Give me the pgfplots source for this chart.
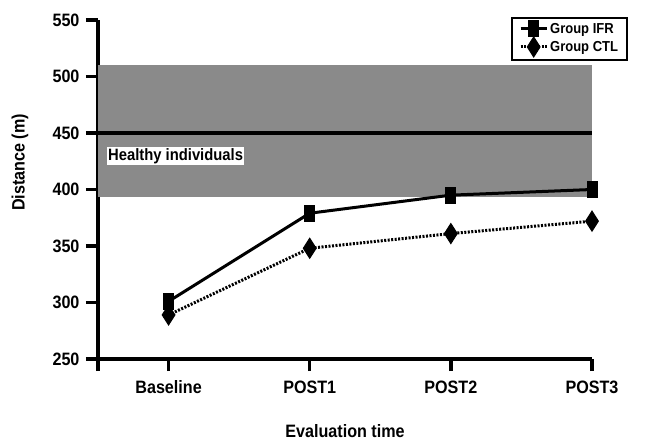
\documentclass[border=0pt]{standalone}
\usepackage{fontspec}
\setmainfont{Liberation Sans}[FakeStretch=0.9]
\usepackage{pgfplots}
\pgfplotsset{compat=1.18}
\definecolor{band}{RGB}{138,138,138}
\begin{document}
\begin{tikzpicture}
\begin{axis}[
 scale only axis, width=494bp, height=339bp,
 xmin=-0.5, xmax=3, ymin=250, ymax=550,
 axis x line*=bottom, axis y line*=left,
 axis line style={line width=3.5bp,-},
 xtick={-0.5,0,1,2,3}, xticklabels={,Baseline,POST1,POST2,POST3},
 ytick={250,300,...,550},
 tick align=outside, major tick length=12bp,
 tick style={line width=3.5bp, black},
 /pgf/number format/assume math mode=true,
 font=\fontsize{18}{21}\selectfont\bfseries,
 xticklabel style={yshift=-6bp},
 yticklabel style={xshift=-3bp},
 xlabel={Evaluation time},
 ylabel={Distance (m)},
 every axis x label/.style={at={(rel axis cs:0.5,-0.213)}, anchor=center},
 every axis y label/.style={at={(rel axis cs:-0.158,0.58)}, rotate=90, anchor=center},
 legend style={at={(rel axis cs:1.073,1.009)}, anchor=north east, draw=black, line width=2bp,
   font=\fontsize{14.5}{17}\selectfont\bfseries, row sep=0bp, inner xsep=7bp, inner ysep=3bp},
 legend cell align=left,
 legend image code/.code={\draw[mark repeat=2,mark phase=2] plot coordinates {(0bp,0bp)(13bp,0bp)(26bp,0bp)};},
 clip=false,
]
\addplot[draw=none, fill=band, forget plot] coordinates {(-0.5,393) (3,393) (3,510) (-0.5,510)} -- cycle;
\addplot[black, line width=4bp, forget plot] coordinates {(-0.5,450) (3,450)};
\node[anchor=west, fill=white, inner sep=1.5bp, font=\fontsize{16.5}{19}\selectfont\bfseries] at (axis cs:-0.44,429.5) {Healthy individuals};
\addplot[black, line width=3bp, mark=square*, mark size=5bp, mark options={solid, line width=1bp, yscale=1.6}]
 coordinates {(0,301) (1,379) (2,395) (3,400)};
\addlegendentry{Group IFR}
\addplot[black, line width=3bp, dash pattern=on 2bp off 1.5bp, mark=diamond*, mark size=10bp, mark options={solid, line width=1bp, xscale=0.85}]
 coordinates {(0,289) (1,348) (2,361) (3,372)};
\addlegendentry{Group CTL}
\end{axis}
\pgfresetboundingbox
\path (-98bp,-84bp) rectangle (553bp,359bp);
\end{tikzpicture}
\end{document}
